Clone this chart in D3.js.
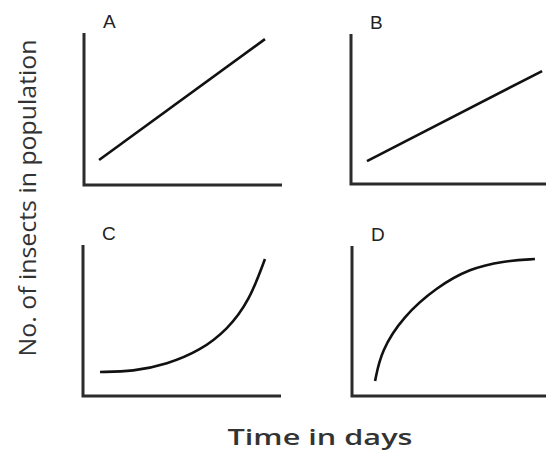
<!DOCTYPE html>
<html>
<head>
<meta charset="utf-8">
<script src="https://cdn.jsdelivr.net/npm/d3@7"></script>
<style>
  body { margin: 0; background: #fff; }
  svg { display: block; }
</style>
</head>
<body>
<div id="chart"></div>
<script>
// panel names and the points of each sketched curve (x and y on a 0-10 scale)
const panelNames = ["A", "B", "C", "D"];
const seriesA = [[0.76, 1.64], [9.14, 9.6]];
const seriesB = [[0.82, 1.53], [9.8, 7.53]];
const seriesC = [[0.86, 1.59], [2.53, 1.62], [4.24, 2.1], [5.91, 3.0], [7.3, 4.4], [8.4, 6.3], [9.19, 9.07]];
const seriesD = [[1.19, 1.0], [1.5, 3.0], [2.63, 5.3], [4.38, 7.27], [6.08, 8.5], [7.78, 9.0], [9.43, 9.13]];
const yTitle = "No. of insects in population";
const xTitle = "Time in days";

const width = 546, height = 454;

// panel frames: left/right of x axis, bottom/top of y axis
const frames = [
    {left: 84, right: 282, bottom: 185, top: 33},
    {left: 351, right: 546, bottom: 184, top: 34},
    {left: 83, right: 281, bottom: 396, top: 245},
    {left: 352, right: 546, bottom: 396, top: 246}
];
const allSeries = [seriesA, seriesB, seriesC, seriesD];

const svg = d3.select("#chart").append("svg")
    .attr("width", width)
    .attr("height", height);

svg.append("rect").attr("width", width).attr("height", height).attr("fill", "#fff");

panelNames.forEach((name, i) => {
    let f = frames[i];
    let x = d3.scaleLinear().domain([0, 10]).range([f.left, f.right]);
    let y = d3.scaleLinear().domain([0, 10]).range([f.bottom, f.top]);

    let g = svg.append("g").attr("class", "panel panel-" + name);

    // L shaped axes
    g.append("path")
        .attr("d", d3.line()([[x(0), y(10)], [x(0), y(0)], [x(10), y(0)]]))
        .attr("fill", "none")
        .attr("stroke", "#2b2b2b")
        .attr("stroke-width", 3);

    // curve
    g.append("path")
        .datum(allSeries[i])
        .attr("d", d3.line()
            .x(d => x(d[0]))
            .y(d => y(d[1]))
            .curve(d3.curveBasis))
        .attr("fill", "none")
        .attr("stroke", "#111")
        .attr("stroke-width", 2.6);

    // panel letter
    g.append("text")
        .attr("x", x(0) + 19)
        .attr("y", y(10) - 5)
        .attr("font-family", "Liberation Sans, Arial, sans-serif")
        .attr("font-size", "19px")
        .attr("fill", "#222")
        .text(name);
});

// y axis title
svg.append("text")
    .attr("transform", "translate(36, 198) rotate(-90)")
    .attr("text-anchor", "middle")
    .attr("font-family", "Liberation Sans Narrow, Open Sans, sans-serif")
    .attr("font-size", "24px")
    .attr("fill", "#333")
    .attr("textLength", 317)
    .attr("lengthAdjust", "spacingAndGlyphs")
    .text(yTitle);

// x axis title
svg.append("text")
    .attr("x", 320)
    .attr("y", 445)
    .attr("text-anchor", "middle")
    .attr("font-family", "Open Sans, sans-serif")
    .attr("font-weight", 600)
    .attr("font-size", "22px")
    .attr("fill", "#333")
    .attr("textLength", 185)
    .attr("lengthAdjust", "spacingAndGlyphs")
    .text(xTitle);
</script>
</body>
</html>
